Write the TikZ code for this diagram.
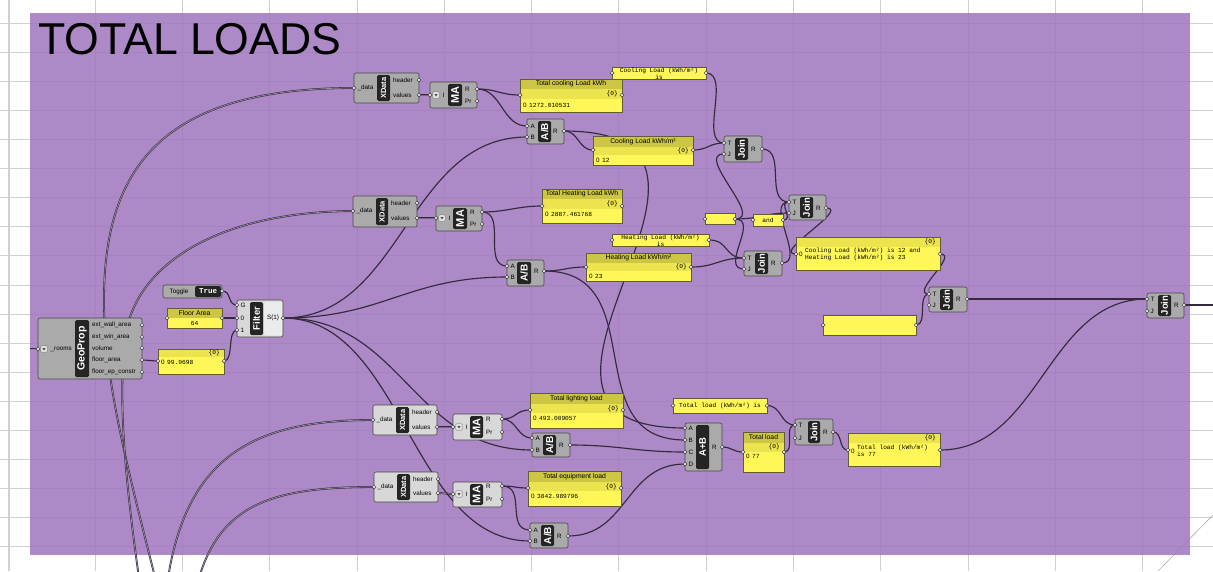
\documentclass[tikz,border=0pt]{standalone}
\usepackage{fontspec}
\setmainfont{Liberation Sans}
\setmonofont{Liberation Mono}
\pgfdeclarelayer{bg}
\pgfdeclarelayer{wires}
\pgfsetlayers{bg,wires,main}
\definecolor{grpc}{RGB}{160,117,190}
\definecolor{gridc}{RGB}{208,208,208}
\definecolor{gridd}{RGB}{175,175,175}
\definecolor{wirec}{RGB}{52,42,62}
\definecolor{dwin}{RGB}{150,140,158}
\definecolor{compd}{RGB}{170,170,170}
\definecolor{compl}{RGB}{216,216,216}
\definecolor{pbody}{RGB}{255,247,88}
\definecolor{phead}{RGB}{205,198,68}
\definecolor{prow}{RGB}{236,228,78}
\definecolor{pedge}{RGB}{95,92,55}
\newcommand\ghpf{\fontsize{6.3}{7}\selectfont}
\newcommand\ghhf{\fontsize{6.8}{7}\selectfont}
\newcommand\ghmf{\ttfamily\fontsize{6.2}{7}\selectfont}
\newcommand\ghlab[2]{\fontsize{#1}{#1}\selectfont\bfseries #2}
\tikzset{
 gbox/.style={draw=black!72, line width=0.6pt, rounded corners=2pt, inner sep=0pt, outer sep=0pt},
 gstrip/.style={fill=black!86, rounded corners=1.5pt, inner sep=0pt, outer sep=0pt},
 gport/.style={circle, fill=white!90!black, draw=black!75, line width=0.5pt, inner sep=0pt, minimum size=3.8pt},
 gicon/.style={draw=black!60, fill=white!88!black, minimum size=6.5pt, inner sep=0pt, rounded corners=0.8pt},
 plab/.style={inner sep=0pt, font=\ghpf, text=black},
 pframe/.style={draw=pedge, line width=0.6pt, inner sep=0pt, outer sep=0pt},
 phd/.style={inner sep=0pt, font=\ghhf},
 pidx/.style={inner sep=0pt, font=\ghpf},
 pzero/.style={inner sep=0pt, font=\ghmf},
 pval/.style={inner sep=0pt, font=\ghmf},
 wire/.style={draw=wirec, line width=1.15pt},
 dwire/.style={draw=wirec, line width=0.55pt, double=dwin, double distance=0.75pt},
}
% component: name x1 y1 x2 y2 stripx1 stripx2 label fill
\newcommand\ghcomp[9]{%
 \node[gbox, fill=#9, anchor=north west, minimum width={(#4-#2)*1pt}, minimum height={(#5-#3)*1pt}] (#1) at (#2,#3) {};
 \node[gstrip, anchor=north west, minimum width={(#7-#6)*1pt}, minimum height={(#5-#3-4)*1pt}] (#1-s) at (#6,#3+2) {};
 \node[rotate=90, text=white, inner sep=0pt] (#1-t) at (#1-s.center) {#8};}
\newcommand\ghport[3]{\coordinate (#1) at (#2,#3);\node[gport] (#1-p) at (#1) {};}
\newcommand\ghin[4]{\ghport{#1}{#2}{#3}\node[plab, anchor=west] (#1-l) at ([xshift=3.5pt]#1) {#4};}
\newcommand\ghout[5]{\ghport{#1}{#2}{#3}\node[plab, anchor=west] (#1-l) at (#5,#3) {#4};}
\newcommand\ghicin[4]{\ghport{#1}{#2}{#3}%
 \node[gicon] (#1-i) at ([xshift=6pt]#1) {};
 \fill[black!70, shift={(#1-i.center)}] (-1.6pt,1pt) -- (1.6pt,1pt) -- (0pt,-1.4pt) -- cycle;
 \node[plab, anchor=west] (#1-l) at ([xshift=12.5pt]#1) {#4};}
% panel: name x1 y1 x2 y2 headerheight rowheight
\newcommand\ghpanel[7]{%
 \fill[pbody] (#2,#3) rectangle (#4,#5);
 \fill[phead] (#2,#3) rectangle (#4,#3+#6);
 \fill[prow] (#2,#3+#6) rectangle (#4,#3+#6+#7);
 \node[pframe, anchor=north west, minimum width={(#4-#2)*1pt}, minimum height={(#5-#3)*1pt}] (#1) at (#2,#3) {};}
\newcommand\ghw[3]{\draw[wire] (#1) .. controls +(#3,0) and +(-#3,0) .. (#2);}
\newcommand\ghdw[3]{\draw[dwire] (#1) .. controls +(#3,0) and +(-#3,0) .. (#2);}
\begin{document}
\begin{tikzpicture}[x=1pt,y=-1pt]
\useasboundingbox (0,0) rectangle (1213,571);
\begin{pgfonlayer}{bg}
 \fill[white] (0,0) rectangle (1213,571);
 \foreach \i in {0,...,12} \draw[gridc, line width=0.8pt] ({95+87.3*\i},0) -- ({95+87.3*\i},571);
 \foreach \j in {0,...,18} \draw[gridc, line width=0.8pt] (0,{23+29.1*\j}) -- (1213,{23+29.1*\j});
 \draw[gridc, line width=2pt] (9,0) -- (9,571);
 \draw[gridd, line width=0.6pt] (1158,571) -- (1213,515);
 \fill[grpc, fill opacity=0.85] (30,13) rectangle (1190,555);
\end{pgfonlayer}

\node[anchor=base west, inner sep=0pt, font=\fontsize{44.6}{44.6}\selectfont] (title) at (38,54) {TOTAL LOADS};

% ---------- cooling row
\ghcomp{xda}{354}{73}{419}{103}{377}{390}{\ghlab{7.5}{XData}}{compd}
\ghin{xdad}{354}{88}{\_data}
\ghout{xdah}{419}{80}{header}{393}
\ghout{xdav}{419}{95}{values}{393}
\ghcomp{maa}{430}{82}{477}{108}{448}{462}{\ghlab{11}{MA}}{compd}
\ghicin{maai}{430}{95}{I}
\ghout{maar}{477}{89}{R}{465}
\ghout{maap}{477}{101}{Pr}{465}
\ghpanel{ptc}{520}{79}{622}{112}{10}{10}
\ghport{ptci}{520}{95}\ghport{ptco}{622}{95}
\node[phd] (ptc-h) at (571,84) {Total cooling Load kWh};
\node[pzero, anchor=east] (ptc-p) at (618,94) {\{0\}};
\node[pidx, anchor=west] (ptc-i) at (523,105) {0};
\node[pval, anchor=west] (ptc-v) at (529,105) {1272.010531};
\ghcomp{aba}{527}{119}{564}{144}{538}{551}{\ghlab{10}{A/B}}{compd}
\ghin{abaa}{527}{126}{A}
\ghin{abab}{527}{137}{B}
\ghout{abar}{564}{131}{R}{553}
\ghpanel{pcl}{593}{136}{693}{165}{11}{8}
\ghport{pcli}{593}{150}\ghport{pclo}{693}{150}
\node[phd] (pcl-h) at (643,141.5) {Cooling Load kWh/m²};
\node[pzero, anchor=east] (pcl-p) at (689,150.5) {\{0\}};
\node[pidx, anchor=west] (pcl-i) at (596,160) {0};
\node[pval, anchor=west] (pcl-v) at (602,160) {12};
\ghpanel{pcis}{612}{67}{706}{79}{0}{0}
\ghport{pcisi}{612}{73}\ghport{pciso}{706}{73}
\begin{scope}
 \clip (612,67) rectangle (706,79);
 \node[pval] (pcis-a) at (659,70.5) {Cooling Load (kWh/m²)};
 \node[pval] (pcis-b) at (659,77.5) {is};
\end{scope}
\ghcomp{ja}{724}{136}{762}{162}{735}{748}{\ghlab{9.5}{Join}}{compd}
\ghin{jat}{724}{143}{T}
\ghin{jaj}{724}{154}{J}
\ghout{jar}{762}{149}{R}{751}

% ---------- heating row
\ghcomp{xdb}{353}{196}{417}{227}{376}{388}{\ghlab{7.5}{XData}}{compd}
\ghin{xdbd}{353}{211}{\_data}
\ghout{xdbh}{417}{203}{header}{391}
\ghout{xdbv}{417}{218}{values}{391}
\ghcomp{mab}{436}{206}{482}{231}{453}{467}{\ghlab{11}{MA}}{compd}
\ghicin{mabi}{436}{218}{I}
\ghout{mabr}{482}{212}{R}{470}
\ghout{mabp}{482}{224}{Pr}{470}
\ghpanel{pth}{542}{189}{622}{223}{10}{10}
\ghport{pthi}{542}{206}\ghport{ptho}{622}{206}
\node[phd] (pth-h) at (582,194) {Total Heating Load kWh};
\node[pzero, anchor=east] (pth-p) at (618,204) {\{0\}};
\node[pidx, anchor=west] (pth-i) at (545,214) {0};
\node[pval, anchor=west] (pth-v) at (551,214) {2887.461768};
\ghcomp{abb}{507}{260}{544}{286}{517}{531}{\ghlab{10}{A/B}}{compd}
\ghin{abba}{507}{266}{A}
\ghin{abbb}{507}{277}{B}
\ghout{abbr}{544}{271}{R}{534}
\ghpanel{phl}{586}{253}{691}{281}{10}{8}
\ghport{phli}{586}{267}\ghport{phlo}{691}{267}
\node[phd] (phl-h) at (638.5,258) {Heating Load kWh/m²};
\node[pzero, anchor=east] (phl-p) at (687,266.5) {\{0\}};
\node[pidx, anchor=west] (phl-i) at (589,276.5) {0};
\node[pval, anchor=west] (phl-v) at (595,276.5) {23};
\ghpanel{phis}{612}{234}{709}{246}{0}{0}
\ghport{phisi}{612}{240}\ghport{phiso}{709}{240}
\begin{scope}
 \clip (612,234) rectangle (709,246);
 \node[pval] (phis-a) at (660.5,237.5) {Heating Load (kWh/m²)};
 \node[pval] (phis-b) at (660.5,244.5) {is};
\end{scope}
\ghpanel{pe}{705}{213}{735}{224}{0}{0}
\ghport{pei}{705}{219}\ghport{peo}{735}{219}
\ghpanel{pand}{753}{214}{783}{226}{0}{0}
\ghport{pandi}{753}{220}\ghport{pando}{783}{220}
\node[pval] (pand-t) at (768,220) {and};
\ghcomp{jb}{789}{195}{826}{220}{800}{813}{\ghlab{9.5}{Join}}{compd}
\ghin{jbt}{789}{202}{T}
\ghin{jbj}{789}{213}{J}
\ghout{jbr}{826}{208}{R}{816}
\ghcomp{jc}{744}{251}{782}{276}{755}{768}{\ghlab{9.5}{Join}}{compd}
\ghin{jct}{744}{258}{T}
\ghin{jcj}{744}{269}{J}
\ghout{jcr}{782}{263}{R}{771}
\ghpanel{pbig}{796}{237}{940}{270}{0}{10}
\ghport{pbigi}{796}{254}\ghport{pbigo}{940}{254}
\node[pzero, anchor=east] (pbig-p) at (936,242) {\{0\}};
\node[pidx, anchor=west] (pbig-i) at (799,254) {0};
\node[pval, anchor=west] (pbig-a) at (805,250.5) {Cooling Load (kWh/m²) is 12 and};
\node[pval, anchor=west] (pbig-b) at (805,257.5) {Heating Load (kWh/m²) is 23};
\ghcomp{jd}{929}{287}{967}{312}{940}{953}{\ghlab{9.5}{Join}}{compd}
\ghin{jdt}{929}{294}{T}
\ghin{jdj}{929}{305}{J}
\ghout{jdr}{967}{299}{R}{956}
\ghpanel{per}{823}{315}{916}{335}{0}{0}
\ghport{peri}{823}{325}\ghport{pero}{916}{325}
\ghcomp{je}{1147}{293}{1184}{318}{1158}{1171}{\ghlab{9.5}{Join}}{compd}
\ghin{jet}{1147}{299}{T}
\ghin{jej}{1147}{311}{J}
\ghout{jer}{1184}{305}{R}{1174}
\coordinate (offr) at (1216,305);

% ---------- left
\node[gbox, fill=compd, anchor=north west, minimum width=59pt, minimum height=13pt] (tog) at (163,285) {};
\node[gstrip, anchor=north west, minimum width=26pt, minimum height=11pt] (tog-b) at (195,286) {};
\node[plab] (tog-l) at (179,291.5) {Toggle};
\node[inner sep=0pt, text=white, font=\ttfamily\bfseries\fontsize{7.5}{8}\selectfont] (tog-v) at (tog-b.center) {True};
\ghport{togo}{222}{291}
\ghpanel{pfa}{167}{308}{222}{328}{10}{0}
\ghport{pfai}{167}{318}\ghport{pfao}{222}{318}
\node[phd] (pfa-h) at (194.5,313) {Floor Area};
\node[pval] (pfa-v) at (194.5,323) {64};
\ghpanel{p99}{158}{349}{224}{374}{0}{8}
\ghport{p99i}{158}{361}\ghport{p99o}{224}{361}
\node[pzero, anchor=east] (p99-p) at (220,353) {\{0\}};
\node[pidx, anchor=west] (p99-i) at (161,362) {0};
\node[pval, anchor=west] (p99-v) at (167,362) {99.9698};
\ghcomp{flt}{237}{300}{283}{337}{250}{263}{\ghlab{9.5}{Filter}}{compl}
\node[fill=white!92!black, anchor=north west, minimum width=18pt, minimum height=34pt, inner sep=0pt, rounded corners=1.5pt] (flt-o) at (264,301.5) {};
\ghin{fltg}{237}{305}{G}
\ghin{fltz}{237}{318}{0}
\ghin{flte}{237}{330}{1}
\ghport{flto}{283}{318}
\node[plab] (flto-l) at (273,318) {S(1)};
\ghcomp{geo}{38}{318}{142}{379}{75}{89}{\ghlab{10.5}{GeoProp}}{compd}
\ghicin{geoi}{38}{349}{\_rooms}
\ghout{geoa}{142}{325}{ext\_wall\_area}{92}
\ghout{geob}{142}{337}{ext\_win\_area}{92}
\ghout{geoc}{142}{348}{volume}{92}
\ghout{geod}{142}{360}{floor\_area}{92}
\ghout{geoe}{142}{372}{floor\_ep\_constr}{92}

% ---------- lighting row
\ghcomp{xdc}{373}{405}{437}{435}{396}{409}{\ghlab{7.5}{XData}}{compl}
\ghin{xdcd}{373}{420}{\_data}
\ghout{xdch}{437}{412}{header}{412}
\ghout{xdcv}{437}{427}{values}{412}
\ghcomp{mac}{453}{414}{502}{440}{470}{483}{\ghlab{11}{MA}}{compl}
\ghicin{maci}{453}{427}{I}
\ghout{macr}{502}{419}{R}{486}
\ghout{macp}{502}{432}{Pr}{486}
\ghpanel{plt}{530}{393}{623}{428}{11}{9}
\ghport{plti}{530}{410}\ghport{plto}{623}{410}
\node[phd] (plt-h) at (576.5,398.5) {Total lighting load};
\node[pzero, anchor=east] (plt-p) at (619,408.5) {\{0\}};
\node[pidx, anchor=west] (plt-i) at (533,418.5) {0};
\node[pval, anchor=west] (plt-v) at (539,418.5) {493.009057};
\ghcomp{abc}{532}{433}{570}{457}{543}{556}{\ghlab{10}{A/B}}{compd}
\ghin{abca}{532}{438}{A}
\ghin{abcb}{532}{450}{B}
\ghout{abcr}{570}{445}{R}{559}
\ghcomp{apb}{685}{423}{722}{471}{696}{709}{\ghlab{9.5}{A+B}}{compd}
\ghin{apba}{685}{428}{A}
\ghin{apbb}{685}{440}{B}
\ghin{apbc}{685}{452}{C}
\ghin{apbd}{685}{464}{D}
\ghout{apbr}{722}{447}{R}{712}
\ghpanel{ptl}{743}{432}{784}{472}{11}{9}
\ghport{ptli}{743}{452}\ghport{ptlo}{784}{452}
\node[phd] (ptl-h) at (763.5,437.5) {Total load};
\node[pzero, anchor=east] (ptl-p) at (780,447) {\{0\}};
\node[pidx, anchor=west] (ptl-i) at (746,456.5) {0};
\node[pval, anchor=west] (ptl-v) at (752,456.5) {77};
\ghpanel{ptlis}{673}{398}{767}{413}{0}{0}
\ghport{ptlisi}{673}{405.5}\ghport{ptliso}{767}{405.5}
\node[pval] (ptlis-t) at (720,405.5) {Total load (kWh/m²) is};
\ghcomp{jf}{795}{419}{833}{445}{808}{820}{\ghlab{9.5}{Join}}{compd}
\ghin{jft}{795}{425}{T}
\ghin{jfj}{795}{438}{J}
\ghout{jfr}{833}{432}{R}{823}
\ghpanel{pt77}{848}{433}{940}{466}{0}{10}
\ghport{pt77i}{848}{450}\ghport{pt77o}{940}{450}
\node[pzero, anchor=east] (pt77-p) at (936,438) {\{0\}};
\node[pidx, anchor=west] (pt77-i) at (851,451) {0};
\node[pval, anchor=west] (pt77-a) at (857,447.5) {Total load (kWh/m²)};
\node[pval, anchor=west] (pt77-b) at (857,454.5) {is 77};

% ---------- equipment row
\ghcomp{xdd}{374}{472}{438}{502}{397}{410}{\ghlab{7.5}{XData}}{compl}
\ghin{xddd}{374}{487}{\_data}
\ghout{xddh}{438}{479}{header}{413}
\ghout{xddv}{438}{493}{values}{413}
\ghcomp{mad}{453}{482}{502}{507}{470}{483}{\ghlab{11}{MA}}{compl}
\ghicin{madi}{453}{494}{I}
\ghout{madr}{502}{486}{R}{486}
\ghout{madp}{502}{499}{Pr}{486}
\ghpanel{peq}{528}{471}{621}{506}{11}{9}
\ghport{peqi}{528}{488}\ghport{peqo}{621}{488}
\node[phd] (peq-h) at (574.5,476.5) {Total equipment load};
\node[pzero, anchor=east] (peq-p) at (617,486.5) {\{0\}};
\node[pidx, anchor=west] (peq-i) at (531,496.5) {0};
\node[pval, anchor=west] (peq-v) at (537,496.5) {3842.989796};
\ghcomp{abd}{530}{523}{568}{548}{541}{554}{\ghlab{10}{A/B}}{compd}
\ghin{abda}{530}{530}{A}
\ghin{abdb}{530}{541}{B}
\ghout{abdr}{568}{536}{R}{557}

% off-canvas sources
\coordinate (srca) at (157,585);
\coordinate (srcb) at (140,585);
\coordinate (srcc) at (167,585);
\coordinate (srcd) at (197,585);
\coordinate (srcg) at (30,349);

\begin{pgfonlayer}{wires}
 \draw[dwire] (srca) .. controls (128,470) and (104,380) .. (104,300) .. controls (104,170) and (160,88) .. (xdad);
 \draw[dwire] (srcb) .. controls (125,480) and (118,400) .. (125,340) .. controls (132,270) and (210,212) .. (xdbd);
 \draw[dwire] (srcc) .. controls (185,455) and (255,420) .. (xdcd);
 \draw[dwire] (srcd) .. controls (218,505) and (270,487) .. (xddd);
 \draw[dwire] (srcg) -- (geoi);
 \ghdw{xdav}{maai}{4}
 \ghw{maar}{ptci}{20}
 \ghw{maar}{abaa}{25}
 \ghw{flto}{abab}{120}
 \ghw{abar}{pcli}{15}
 \ghw{abar}{apba}{230}
 \ghw{pciso}{jat}{25}
 \ghw{pclo}{jat}{15}
 \ghw{peo}{jaj}{30}
 \ghdw{xdbv}{mabi}{4}
 \ghw{mabr}{pthi}{25}
 \ghw{mabr}{abba}{25}
 \ghw{flto}{abbb}{100}
 \ghw{abbr}{phli}{20}
 \ghw{abbr}{apbb}{110}
 \ghw{phiso}{jct}{20}
 \ghw{phlo}{jct}{25}
 \ghw{peo}{jcj}{25}
 \ghw{jar}{jbt}{25}
 \ghw{pando}{jbt}{12}
 \ghw{jcr}{jbt}{25}
 \ghw{peo}{jbj}{25}
 \ghw{jbr}{pbigi}{25}
 \ghw{pbigo}{jdt}{20}
 \ghw{pero}{jdt}{12}
 \ghw{jdr}{jet}{60}
 \ghw{pt77o}{jet}{100}
 \draw[wire] (jer) -- (offr);
 \ghw{togo}{fltg}{10}
 \ghw{pfao}{fltz}{5}
 \ghw{p99o}{flte}{10}
 \ghw{geod}{p99i}{6}
 \ghdw{xdcv}{maci}{4}
 \ghw{macr}{plti}{15}
 \ghw{macr}{abca}{15}
 \ghw{flto}{abcb}{120}
 \ghw{abcr}{apbc}{50}
 \ghdw{xddv}{madi}{4}
 \ghw{madr}{peqi}{12}
 \ghw{madr}{abda}{25}
 \ghw{flto}{abdb}{120}
 \ghw{abdr}{apbd}{60}
 \ghw{apbr}{ptli}{10}
 \ghw{ptliso}{jft}{15}
 \ghw{ptlo}{jft}{12}
 \ghw{jfr}{pt77i}{10}
\end{pgfonlayer}
\end{tikzpicture}
\end{document}
